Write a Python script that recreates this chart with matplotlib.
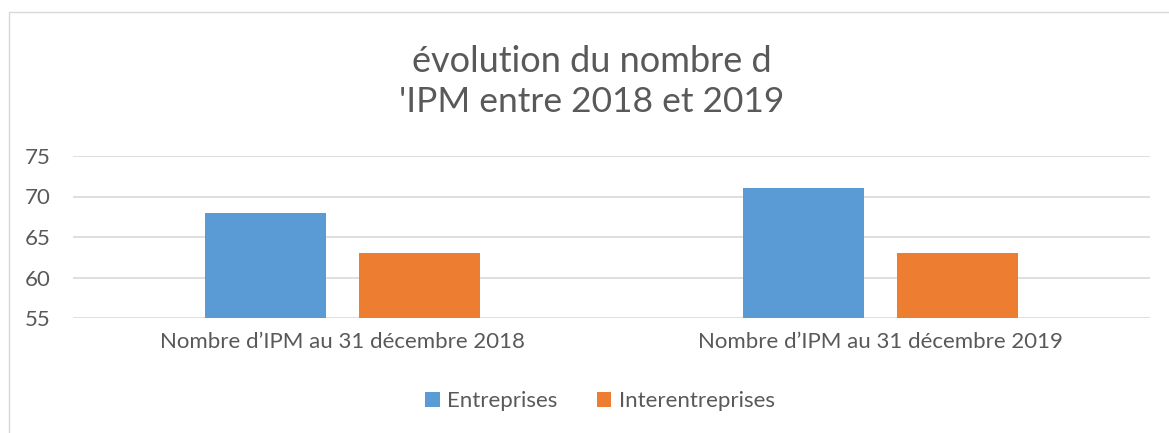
import matplotlib
matplotlib.use('Agg')
import matplotlib.pyplot as plt
import numpy as np
from matplotlib.patches import Rectangle

# Data
categories = ['Nombre d\u2019IPM au 31 décembre 2018', 'Nombre d\u2019IPM au 31 décembre 2019']
entreprises = [68, 71]
interentreprises = [63, 63]
series_names = ['Entreprises', 'Interentreprises']
colors = ['#5B9BD5', '#ED7D31']
yticks = [55, 60, 65, 70, 75]

plt.rcParams['font.family'] = ['Lato', 'DejaVu Sans']
text_color = '#595959'

W, H = 1169, 433
fig = plt.figure(figsize=(W / 100, H / 100), dpi=100)

# chart border (only top and left visible in the crop)
fig.patches.append(Rectangle((9 / W, -0.1), 1.2, 1 - 12 / H + 0.1, transform=fig.transFigure,
                             fill=False, edgecolor='#D9D9D9', linewidth=1))

ax = fig.add_axes([73 / W, 1 - 318 / H, (1150 - 73) / W, (318 - 156) / H])

x = np.arange(len(categories))
bw = 0.225
ax.bar(x - 0.143, entreprises, bw, color=colors[0], label=series_names[0], zorder=3)
ax.bar(x + 0.143, interentreprises, bw, color=colors[1], label=series_names[1], zorder=3)

ax.set_xlim(-0.5, 1.5)
ax.set_ylim(55, 75)
ax.set_yticks(yticks)
ax.yaxis.grid(True, color='#D9D9D9', linewidth=1.2, zorder=0)
for s in ax.spines.values():
    s.set_visible(False)
ax.tick_params(axis='both', length=0, colors=text_color, labelsize=16)
ax.tick_params(axis='y', pad=16)
ax.tick_params(axis='x', pad=10)
ax.set_xticks(x)
ax.set_xticklabels(categories)

fig.text(592 / W, 1 - 61 / H, 'évolution du nombre d', ha='center', va='center',
         fontsize=26, color=text_color)
fig.text(592 / W, 1 - 102 / H, '\'IPM entre 2018 et 2019', ha='center', va='center',
         fontsize=25.5, color=text_color)

fig.legend(loc='center', bbox_to_anchor=(600 / W, 1 - 401 / H), ncol=2, frameon=False,
           fontsize=16, labelcolor=text_color, handlelength=0.65, handleheight=0.65,
           handletextpad=0.35, columnspacing=1.75)

fig.savefig('out.png', dpi=100)
